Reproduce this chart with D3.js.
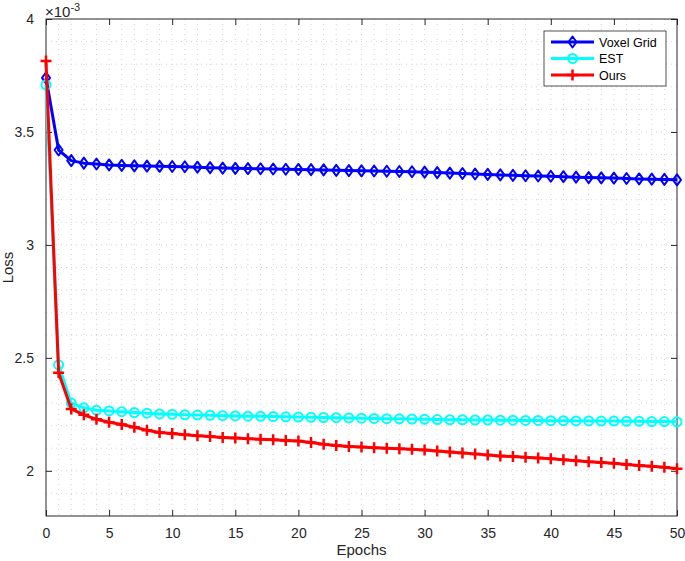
<!DOCTYPE html>
<html><head><meta charset="utf-8">
<script src="https://cdn.jsdelivr.net/npm/d3@7"></script>
<style>body{margin:0;background:#fff}svg{display:block}text{font-family:"Liberation Sans",Arial,Helvetica,sans-serif}</style>
</head><body><svg id="c" width="685" height="561"></svg>
<script>
const epochs = d3.range(0, 51);
const seriesNames = ["Voxel Grid", "EST", "Ours"];
const voxelGrid = [3.739,3.42,3.373,3.362,3.358,3.354,3.352,3.35,3.349,3.348,3.347,3.346,3.344,3.342,3.34,3.339,3.338,3.337,3.336,3.335,3.334,3.333,3.332,3.33,3.329,3.328,3.327,3.326,3.325,3.324,3.322,3.32,3.318,3.316,3.314,3.312,3.31,3.308,3.306,3.305,3.304,3.302,3.3,3.298,3.297,3.296,3.294,3.292,3.291,3.29,3.288];
const est = [3.708,2.469,2.3,2.279,2.268,2.265,2.262,2.258,2.255,2.252,2.25,2.248,2.247,2.246,2.244,2.243,2.242,2.241,2.24,2.239,2.238,2.237,2.236,2.235,2.234,2.233,2.232,2.231,2.23,2.229,2.228,2.227,2.226,2.226,2.225,2.225,2.224,2.224,2.223,2.223,2.222,2.222,2.221,2.221,2.22,2.22,2.219,2.219,2.218,2.218,2.217];
const ours = [3.814,2.434,2.274,2.248,2.228,2.215,2.205,2.193,2.18,2.17,2.165,2.16,2.155,2.152,2.148,2.145,2.142,2.14,2.137,2.134,2.132,2.125,2.118,2.112,2.108,2.105,2.102,2.1,2.098,2.095,2.092,2.088,2.083,2.079,2.075,2.07,2.066,2.063,2.06,2.057,2.053,2.049,2.045,2.04,2.037,2.033,2.028,2.024,2.02,2.016,2.009];
const xTicks = [0,5,10,15,20,25,30,35,40,45,50];
const yTicks = [2,2.5,3,3.5,4];
const yTickLabels = ["2","2.5","3","3.5","4"];

const L = 46, R = 677, T = 19, B = 516;
const svg = d3.select("#c");
const x = d3.scaleLinear().domain([0,50]).range([L,R]);
const y = d3.scaleLinear().domain([1.8,4]).range([B,T]);

// grid (minor + major, dotted)
const g = svg.append("g");
d3.range(1,50).forEach(v=>{
  g.append("line").attr("x1",x(v)).attr("x2",x(v)).attr("y1",T).attr("y2",B)
   .attr("stroke","#d4d4d4").attr("stroke-width",1).attr("stroke-dasharray","1,4");
});
d3.range(19,40).forEach(i=>{
  const v=i/10;
  g.append("line").attr("x1",L).attr("x2",R).attr("y1",y(v)).attr("y2",y(v))
   .attr("stroke","#d4d4d4").attr("stroke-width",1).attr("stroke-dasharray","1,4");
});

// axes
const tc="#262626";
const ax = d3.axisBottom(x).tickValues(xTicks).tickSize(-6).tickPadding(12).tickFormat(d3.format("d"));
const axT = d3.axisTop(x).tickValues(xTicks).tickSize(-6).tickFormat("");
const ay = d3.axisLeft(y).tickValues(yTicks).tickSize(-6).tickPadding(12).tickFormat((d,i)=>yTickLabels[i]);
const ayR = d3.axisRight(y).tickValues(yTicks).tickSize(-6).tickFormat("");
function style(sel){sel.select(".domain").remove();sel.selectAll("line").attr("stroke",tc);sel.selectAll("text").attr("fill",tc).style("font-size","14px");}
svg.append("g").attr("transform",`translate(0,${B})`).call(ax).call(style);
svg.append("g").attr("transform",`translate(0,${T})`).call(axT).call(style);
svg.append("g").attr("transform",`translate(${L},0)`).call(ay).call(style);
svg.append("g").attr("transform",`translate(${R},0)`).call(ayR).call(style);
svg.append("rect").attr("x",L).attr("y",T).attr("width",R-L).attr("height",B-T)
  .attr("fill","none").attr("stroke",tc).attr("stroke-width",1);

// exponent
const ex = svg.append("text").attr("x",L-1).attr("y",17).attr("fill",tc).style("font-size","15px");
ex.append("tspan").text("\u00d710");
ex.append("tspan").attr("dy",-6).style("font-size","11px").text("-3");

// labels
svg.append("text").attr("x",(L+R)/2).attr("y",555).attr("text-anchor","middle").attr("fill",tc).style("font-size","15px").text("Epochs");
svg.append("text").attr("transform",`translate(13,${(T+B)/2}) rotate(-90)`).attr("text-anchor","middle").attr("fill",tc).style("font-size","15px").text("Loss");

const series = [
  {name:seriesNames[0], vals:voxelGrid, color:"#0000ff", marker:"diamond"},
  {name:seriesNames[1], vals:est, color:"#00ffff", marker:"circle"},
  {name:seriesNames[2], vals:ours, color:"#ff0000", marker:"plus"}
];
function drawMarker(sel, type, cx, cy, color){
  if(type==="diamond"){
    sel.append("path").attr("d",`M${cx},${cy-5.5}L${cx+4},${cy}L${cx},${cy+5.5}L${cx-4},${cy}Z`)
      .attr("fill","none").attr("stroke",color).attr("stroke-width",2).attr("stroke-linejoin","round");
  } else if(type==="circle"){
    sel.append("circle").attr("cx",cx).attr("cy",cy).attr("r",4.5)
      .attr("fill","none").attr("stroke",color).attr("stroke-width",2);
  } else {
    sel.append("path").attr("d",`M${cx-5.5},${cy}H${cx+5.5}M${cx},${cy-5.5}V${cy+5.5}`)
      .attr("stroke",color).attr("stroke-width",2.5);
  }
}
const line = d3.line().x((d,i)=>x(epochs[i])).y(d=>y(d));
series.forEach(s=>{
  const sg = svg.append("g");
  sg.append("path").attr("d",line(s.vals)).attr("fill","none").attr("stroke",s.color).attr("stroke-width",3).attr("stroke-linejoin","round");
  s.vals.forEach((v,i)=>drawMarker(sg,s.marker,x(epochs[i]),y(v),s.color));
});

// legend
const lg = svg.append("g");
lg.append("rect").attr("x",544).attr("y",31).attr("width",122).attr("height",55).attr("fill","#fff").attr("stroke",tc).attr("stroke-width",0.8);
series.forEach((s,i)=>{
  const yy = 42 + i*16.5;
  lg.append("line").attr("x1",551).attr("x2",594).attr("y1",yy).attr("y2",yy).attr("stroke",s.color).attr("stroke-width",3);
  drawMarker(lg,s.marker,572.5,yy,s.color);
  lg.append("text").attr("x",599).attr("y",yy+4.5).attr("fill","#000").style("font-size","12.5px").text(s.name);
});
</script></body></html>
